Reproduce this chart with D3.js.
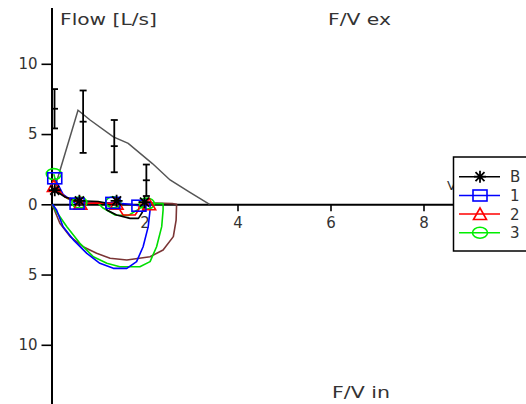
<!DOCTYPE html>
<html>
<head>
<meta charset="utf-8">
<script src="https://cdn.jsdelivr.net/npm/d3@7"></script>
<style>
html,body{margin:0;padding:0;background:#fff;}
svg{display:block;}
text{font-family:"DejaVu Sans",Verdana,sans-serif;fill:#333;}
</style>
</head>
<body>
<svg id="chart" width="526" height="404"></svg>
<script>
// ---- data ----
const xTicks = [2, 4, 6, 8];
const yTicks = [-10, -5, 0, 5, 10];

// predicted curve (gray)
const predX = [0.1, 0.57, 0.83, 1.33, 1.65, 2.17, 2.55, 2.96, 3.4];
const predY = [1.5, 6.7, 6.0, 4.8, 4.34, 2.9, 1.73, 0.88, 0];

// predicted mean ± sd error bars
const ebX = [0.065, 0.68, 1.35, 2.04];
const ebMean = [6.8, 5.88, 4.14, 1.71];
const ebSD = [1.4, 2.22, 1.86, 1.12];

// series B (black)
const bX = [0.07, 0.3, 0.6, 1.0, 1.15, 1.19, 1.4, 1.69, 1.87, 1.94, 2.01, 2.05];
const bY = [1.0, 0.5, 0.25, 0.2, 0.1, -0.4, -0.76, -1.0, -1.0, -0.64, -0.17, 0.1];
// brown inspiratory curve
const brX = [2.05, 2.6, 2.69, 2.68, 2.62, 2.4, 2.12, 1.62, 1.26, 0.97, 0.68, 0.4, 0.18, 0.05, 0.0];
const brY = [0.1, 0.05, 0.0, -1.12, -2.3, -3.25, -3.73, -3.96, -3.84, -3.49, -3.02, -2.3, -1.35, -0.3, 0.0];
// series 1 (blue)
const s1X = [0.07, 0.25, 0.52, 1.0, 1.32, 1.7, 1.88, 2.12, 2.12, 2.12, 2.08, 1.97, 1.83, 1.62, 1.33, 1.04, 0.76, 0.47, 0.25, 0.11, 0.02];
const s1Y = [1.85, 0.7, 0.05, 0.1, 0.1, 0.0, -0.1, 0.05, 0.05, -0.4, -1.59, -3.02, -4.08, -4.56, -4.56, -4.2, -3.49, -2.53, -1.6, -0.4, 0];
// series 2 (red)
const s2X = [0.05, 0.3, 0.62, 1.0, 1.4, 1.47, 1.54, 1.8, 1.87, 1.9, 2.1];
const s2Y = [1.3, 0.5, 0.05, 0.1, 0.05, -0.4, -0.76, -0.76, -0.4, 0.0, 0.0];
// series 3 (green)
const s3X = [0.05, 0.15, 0.35, 0.6, 1.0, 1.1, 1.37, 1.65, 1.85, 2.05, 2.4, 2.4, 2.37, 2.26, 2.12, 1.9, 1.47, 1.19, 0.9, 0.61, 0.33, 0.1, 0.02];
const s3Y = [2.15, 0.9, 0.4, 0.15, 0.1, -0.25, -0.76, -0.8, -0.4, 0.05, 0.05, -0.4, -1.59, -3.02, -4.08, -4.44, -4.44, -4.2, -3.73, -2.78, -1.6, -0.5, 0];

// markers
const mkBX = [0.07, 0.6, 1.4, 2.0], mkBY = [1.0, 0.25, 0.25, 0.15];
const mk1X = [0.07, 0.55, 1.32, 1.88], mk1Y = [1.85, 0.05, 0.1, -0.1];
const mk2X = [0.05, 0.62, 1.4, 2.1], mk2Y = [1.3, 0.05, 0.05, 0.0];
const mk3X = [0.05, 0.6, 1.33, 2.05], mk3Y = [2.15, 0.12, 0.15, 0.05];

const legendLabels = ["B", "1", "2", "3"];
const legendColors = ["#000000", "#0000ff", "#ff0000", "#00ee00"];
const legendShapes = ["star", "square", "triangle", "circle"];

// ---- scales ----
const svg = d3.select("#chart");
const x = d3.scaleLinear().domain([0, 9]).range([51.5, 470]);
const y = d3.scaleLinear().domain([-14.5, 14]).range([204.3 + 14.5 * 14.05, 204.3 - 14 * 14.05]);

// ---- axes ----
const gx = svg.append("g").attr("transform", `translate(0,${y(0)})`);
gx.call(d3.axisBottom(x).tickValues(d3.range(1, 27).map(k => k / 3)).tickSize(4).tickSizeOuter(0).tickFormat(""));
gx.call(d3.axisBottom(x).tickValues(xTicks).tickSize(7).tickPadding(6).tickSizeOuter(0).tickFormat(d3.format("d")));
gx.selectAll("path.domain").attr("stroke", "#000").attr("stroke-width", 2);
gx.selectAll("line").attr("stroke", "#000").attr("stroke-width", 1.6);
gx.selectAll("text").attr("font-size", 15).attr("fill", "#333").attr("font-family", "DejaVu Sans");

const gy = svg.append("g").attr("transform", `translate(${x(0)},0)`);
gy.call(d3.axisLeft(y).tickValues(d3.range(-14, 15)).tickSize(5).tickSizeOuter(0).tickFormat(""));
gy.call(d3.axisLeft(y).tickValues(yTicks).tickSize(10).tickPadding(4).tickSizeOuter(0).tickFormat(d => Math.abs(d)));
gy.selectAll("path.domain").attr("stroke", "#000").attr("stroke-width", 2);
gy.selectAll("line").attr("stroke", "#000").attr("stroke-width", 1.6);
gy.selectAll("text").attr("font-size", 15).attr("fill", "#333").attr("font-family", "DejaVu Sans");

// hidden-ish x label behind legend
svg.append("text").attr("x", 447).attr("y", 190).attr("font-size", 13).attr("fill", "#a0602a").text("V [L]");

// ---- titles ----
svg.append("text").attr("x", 60).attr("y", 25).attr("font-size", 15)
  .attr("textLength", 97).attr("lengthAdjust", "spacingAndGlyphs").text("Flow [L/s]");
svg.append("text").attr("x", 328).attr("y", 25).attr("font-size", 15)
  .attr("textLength", 63).attr("lengthAdjust", "spacingAndGlyphs").text("F/V ex");
svg.append("text").attr("x", 332).attr("y", 398).attr("font-size", 15)
  .attr("textLength", 58).attr("lengthAdjust", "spacingAndGlyphs").text("F/V in");

// ---- lines ----
const line = d3.line().x(d => x(d[0])).y(d => y(d[1]));
const zip = (a, b) => a.map((v, i) => [v, b[i]]);

svg.append("path").attr("d", line(zip(predX, predY)))
  .attr("fill", "none").attr("stroke", "#555").attr("stroke-width", 1.5);

// error bars
const eb = svg.append("g").attr("stroke", "#000").attr("stroke-width", 1.8);
ebX.forEach((vx, i) => {
  const cx = x(vx), lo = y(ebMean[i] - ebSD[i]), hi = y(ebMean[i] + ebSD[i]), m = y(ebMean[i]);
  eb.append("line").attr("x1", cx).attr("x2", cx).attr("y1", lo).attr("y2", hi);
  [lo, hi, m].forEach(yy => eb.append("line").attr("x1", cx - 3.5).attr("x2", cx + 3.5).attr("y1", yy).attr("y2", yy));
});

const curves = [
  [brX, brY, "#7a3535"],
  [s3X, s3Y, "#00dd00"],
  [s1X, s1Y, "#0000ff"],
  [s2X, s2Y, "#ff0000"],
  [bX, bY, "#000000"]
];
curves.forEach(([cx, cy, col]) => {
  svg.append("path").attr("d", line(zip(cx, cy)))
    .attr("fill", "none").attr("stroke", col).attr("stroke-width", 1.6).attr("stroke-linejoin", "round");
});

// ---- markers ----
function marker(g, shape, px, py, col) {
  const s = g.append("g").attr("transform", `translate(${px},${py})`)
    .attr("stroke", col).attr("fill", "none").attr("stroke-width", 1.6);
  if (shape === "square") s.append("rect").attr("x", -7).attr("y", -5.5).attr("width", 14).attr("height", 11);
  else if (shape === "circle") s.append("ellipse").attr("rx", 7.5).attr("ry", 5.5);
  else if (shape === "triangle") s.append("path").attr("d", "M-6.5,5.5L0,-6L6.5,5.5Z");
  else {
    s.append("path").attr("d", "M-6,0H6M0,-6V6M-4.5,-4.5L4.5,4.5M-4.5,4.5L4.5,-4.5").attr("stroke-width", 1.8);
  }
}
const mg = svg.append("g");
[[mk3X, mk3Y, "circle", legendColors[3]],
 [mk2X, mk2Y, "triangle", legendColors[2]],
 [mk1X, mk1Y, "square", legendColors[1]],
 [mkBX, mkBY, "star", legendColors[0]]].forEach(([mx, my, sh, col]) => {
  mx.forEach((v, i) => marker(mg, sh, x(v), y(my[i]), col));
});

// ---- legend ----
const lg = svg.append("g");
lg.append("rect").attr("x", 453.5).attr("y", 157).attr("width", 100).attr("height", 94)
  .attr("fill", "#fff").attr("stroke", "#000").attr("stroke-width", 1.5);
const rowY = [176.7, 195.5, 214, 232.7];
legendLabels.forEach((lab, i) => {
  lg.append("line").attr("x1", 459).attr("x2", 500).attr("y1", rowY[i]).attr("y2", rowY[i])
    .attr("stroke", legendColors[i]).attr("stroke-width", 1.6);
  marker(lg, legendShapes[i], 480, rowY[i], legendColors[i]);
  lg.append("text").attr("x", 510).attr("y", rowY[i] + 5.5).attr("font-size", 15).text(lab);
});
</script>
</body>
</html>
